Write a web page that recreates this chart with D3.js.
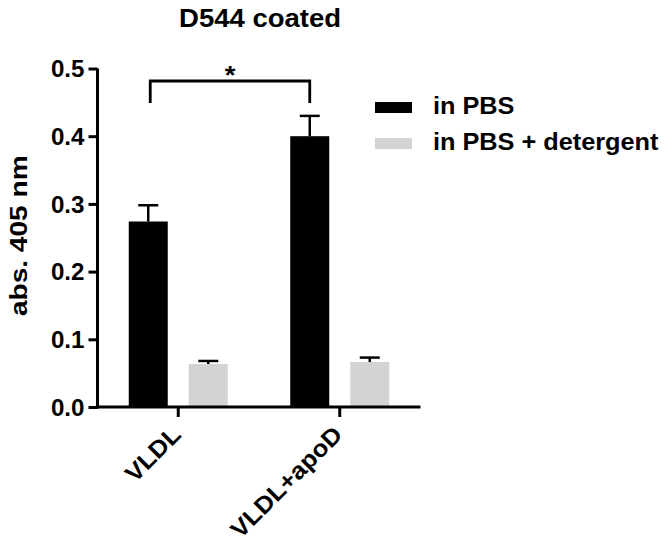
<!DOCTYPE html>
<html>
<head>
<meta charset="utf-8">
<script src="https://cdn.jsdelivr.net/npm/d3@7"></script>
<style>
  html, body { margin: 0; padding: 0; background: #fff; }
  svg { display: block; }
  text { font-family: "Liberation Sans", Arial, sans-serif; font-weight: bold; fill: #000; }
</style>
</head>
<body>
<svg id="chart" width="668" height="543"></svg>
<script>
// ---- data ----
const categories = ["VLDL", "VLDL+apoD"];
const seriesNames = ["in PBS", "in PBS + detergent"];
const seriesColors = ["#000000", "#d3d3d3"];
const pbsValues = [0.274, 0.400];
const pbsErrors = [0.024, 0.030];
const detergentValues = [0.0635, 0.0665];
const detergentErrors = [0.0045, 0.0065];
const yTicks = [0.0, 0.1, 0.2, 0.3, 0.4, 0.5];
const title = "D544 coated";
const yLabel = "abs. 405 nm";
const sigFrom = "VLDL", sigTo = "VLDL+apoD", sigLabel = "*";
const sigTop = 0.4815, sigLeg = 0.449;

const svg = d3.select("#chart");
const x0 = 97.5, x1 = 420.5, yBottom = 407, yTop = 68.5;

const y = d3.scaleLinear().domain([0, 0.5]).range([yBottom, yTop]);
const x = d3.scaleBand().domain(categories).range([x0, x1]).padding(0);
const xs = d3.scaleBand().domain(seriesNames).range([-60, 60]).paddingInner(0.35).paddingOuter(0.175);

const rows = [];
categories.forEach((c, i) => {
  rows.push({cat: c, s: seriesNames[0], v: pbsValues[i], e: pbsErrors[i], color: seriesColors[0]});
  rows.push({cat: c, s: seriesNames[1], v: detergentValues[i], e: detergentErrors[i], color: seriesColors[1]});
});
const cx = d => x(d.cat) + x.bandwidth() / 2 + xs(d.s) + xs.bandwidth() / 2;

// bars
svg.append("g").selectAll("rect").data(rows).join("rect")
  .attr("x", d => x(d.cat) + x.bandwidth() / 2 + xs(d.s))
  .attr("y", d => y(d.v))
  .attr("width", xs.bandwidth())
  .attr("height", d => y(0) - y(d.v))
  .attr("fill", d => d.color);

// error bars (upper only)
const eb = svg.append("g").attr("stroke", "#000").attr("stroke-width", 2.5).attr("fill", "none");
rows.forEach(d => {
  eb.append("line").attr("x1", cx(d)).attr("x2", cx(d)).attr("y1", y(d.v)).attr("y2", y(d.v + d.e));
  eb.append("line").attr("x1", cx(d) - 10).attr("x2", cx(d) + 10).attr("y1", y(d.v + d.e)).attr("y2", y(d.v + d.e));
});

// y axis
const yAxis = svg.append("g").attr("transform", `translate(${x0},0)`)
  .call(d3.axisLeft(y).tickValues(yTicks).tickFormat(d3.format(".1f")).tickSize(9).tickSizeOuter(0).tickPadding(0));
yAxis.select(".domain").attr("stroke-width", 3).attr("d", `M0,${yBottom + 1.5}V${yTop}`);
yAxis.selectAll(".tick line").attr("stroke-width", 3);
yAxis.selectAll(".tick text")
  .attr("x", null).attr("dy", "0.36em")
  .attr("transform", `translate(-13,0) scale(1.05,1)`)
  .style("font-size", "23px").style("font-family", "Liberation Sans, Arial, sans-serif").style("font-weight", "bold");

// x axis
const xAxis = svg.append("g").attr("transform", `translate(0,${yBottom})`)
  .call(d3.axisBottom(x).tickSize(10).tickSizeOuter(0).tickFormat(""));
xAxis.select(".domain").attr("stroke-width", 3).attr("d", `M${x0 - 1.5},0H${x1}`);
xAxis.selectAll(".tick line").attr("stroke-width", 3);

// x labels rotated
svg.append("g").selectAll("text").data(categories).join("text")
  .attr("transform", d => `translate(${x(d) + x.bandwidth() / 2 - 8},${yBottom + 17}) rotate(-45) scale(1.07,1)`)
  .attr("text-anchor", "end")
  .attr("dy", "0.71em")
  .style("font-size", "24px")
  .text(d => d);

// y label
svg.append("text")
  .attr("transform", `translate(27,${(yBottom + yTop) / 2 - 2}) rotate(-90) scale(1.17,1)`)
  .attr("text-anchor", "middle")
  .style("font-size", "24px")
  .text(yLabel);

// title
svg.append("text")
  .attr("transform", `translate(260,27) scale(1.1,1)`)
  .attr("text-anchor", "middle")
  .style("font-size", "25px")
  .text(title);

// significance bracket
const bx1 = x(sigFrom) + x.bandwidth() / 2 + xs(seriesNames[0]) + xs.bandwidth() / 2 + 2;
const bx2 = x(sigTo) + x.bandwidth() / 2 + xs(seriesNames[0]) + xs.bandwidth() / 2;
svg.append("path")
  .attr("d", `M${bx1},${y(sigLeg)}V${y(sigTop)}H${bx2}V${y(sigLeg)}`)
  .attr("fill", "none").attr("stroke", "#000").attr("stroke-width", 2.8);
svg.append("text")
  .attr("transform", `translate(${(bx1 + bx2) / 2},${y(sigTop) + 3}) scale(1.1,1)`)
  .attr("text-anchor", "middle")
  .style("font-size", "25px")
  .text(sigLabel);

// legend
const lg = svg.append("g").attr("transform", "translate(375,0)");
seriesNames.forEach((s, i) => {
  const by = 114 + i * 36;
  lg.append("rect").attr("x", 0).attr("y", by - 12).attr("width", 37).attr("height", 11).attr("fill", seriesColors[i]);
  lg.append("text").attr("transform", `translate(58,${by}) scale(1.1,1)`).style("font-size", "23px").text(s);
});
</script>
</body>
</html>
